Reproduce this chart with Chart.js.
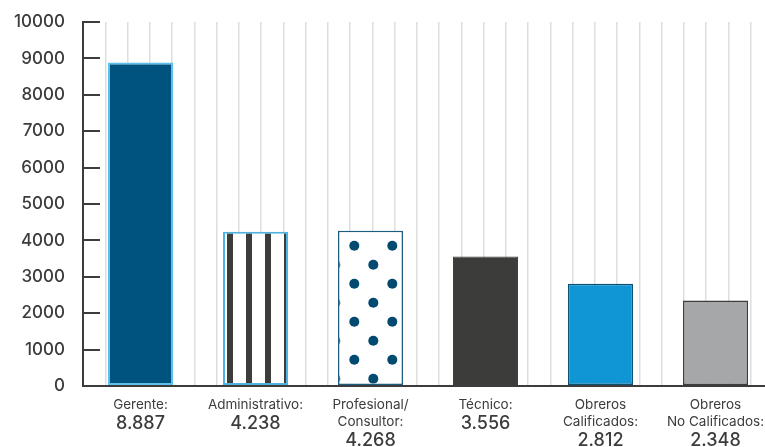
<!DOCTYPE html>
<html>
<head>
<meta charset="utf-8">
<script src="https://cdn.jsdelivr.net/npm/chart.js@4/dist/chart.umd.min.js"></script>
<style>
  html, body { margin: 0; padding: 0; background: #fff; overflow: hidden; }
  #wrap { position: relative; width: 775px; height: 447px; }
</style>
</head>
<body>
<div id="wrap"><canvas id="c"></canvas></div>
<script>
// ---- data ----
const categories = [
  ["Gerente:"],
  ["Administrativo:"],
  ["Profesional/", "Consultor:"],
  ["Técnico:"],
  ["Obreros", "Calificados:"],
  ["Obreros", "No Calificados:"]
];
const values = [8887, 4238, 4268, 3556, 2812, 2348];
const valueLabels = ["8.887", "4.238", "4.268", "3.556", "2.812", "2.348"];
const yTicks = [0, 1000, 2000, 3000, 4000, 5000, 6000, 7000, 8000, 9000, 10000];

// ---- patterns ----
function stripePattern() {
  const c = document.createElement('canvas');
  c.width = 19; c.height = 10;
  const g = c.getContext('2d');
  g.fillStyle = '#ffffff'; g.fillRect(0, 0, 19, 10);
  g.fillStyle = '#3c3c3b';
  g.fillRect(0, 0, 5, 10);
  g.fillRect(18, 0, 1, 10);
  return g.createPattern(c, 'repeat');
}
function dotPattern() {
  const s = 38;
  const c = document.createElement('canvas');
  c.width = s; c.height = s;
  const g = c.getContext('2d');
  g.fillStyle = '#ffffff'; g.fillRect(0, 0, s, s);
  g.fillStyle = '#034a70';
  const pts = [[12.3, 17.7], [31.3, 36.7]];
  for (const [px, py] of pts) {
    for (const dx of [-s, 0, s]) for (const dy of [-s, 0, s]) {
      g.beginPath(); g.arc(px + dx, py + dy, 5, 0, Math.PI * 2); g.fill();
    }
  }
  return g.createPattern(c, 'repeat');
}

const fills = ['#00527f', stripePattern(), dotPattern(), '#3c3c3b', '#1096d4', '#a6a7a9'];
const borders = ['#5bc0eb', '#4fb3e0', '#1d5c7e', '#3c3c3b', '#0d4f73', '#3c3c3c'];
const borderWidths = [2, 2, 1.5, 1, 1.5, 1.5];

Chart.defaults.font.family = 'Inter, "Open Sans", sans-serif';
Chart.defaults.color = '#3c3c3c';

const valuePlugin = {
  id: 'valueLabels',
  afterDraw(chart) {
    const xs = chart.scales.x;
    const ctx = chart.ctx;
    ctx.save();
    ctx.font = '500 18px Inter, "Open Sans", sans-serif';
    ctx.fillStyle = '#3c3c3c';
    ctx.textAlign = 'center';
    ctx.textBaseline = 'middle';
    categories.forEach((lines, i) => {
      const x = xs.getPixelForValue(i);
      const y = xs.top + 37.5 + 17 * (lines.length - 1);
      ctx.fillText(valueLabels[i], x, y);
    });
    ctx.restore();
  }
};

new Chart(document.getElementById('c'), {
  type: 'bar',
  data: {
    labels: categories,
    datasets: [{
      data: values,
      backgroundColor: fills,
      borderColor: borders,
      borderWidth: borderWidths,
      borderSkipped: false,
      categoryPercentage: 1,
      barPercentage: 0.565
    }]
  },
  options: {
    responsive: true,
    maintainAspectRatio: false,
    animation: false,
    layout: { padding: { top: 22, right: 2, bottom: 0, left: 0 } },
    plugins: { legend: { display: false }, tooltip: { enabled: false } },
    scales: {
      x: {
        type: 'category',
        position: 'bottom',
        grid: { display: false },
        border: { display: true, color: '#3c3c3c', width: 2 },
        ticks: {
          autoSkip: false, maxRotation: 0, minRotation: 0,
          padding: 2,
          color: '#3c3c3c',
          font: { size: 13.5, weight: '400', lineHeight: '17px' }
        },
        afterFit(s) { s.height = 61; }
      },
      x2: {
        type: 'linear',
        position: 'bottom',
        min: 0, max: 30,
        grid: { color: '#dedede', lineWidth: 1.5, drawTicks: false },
        border: { display: false },
        ticks: { display: false, stepSize: 1 },
        afterFit(s) { s.height = 0; }
      },
      y: {
        min: 0, max: 10000,
        afterBuildTicks(s) { s.ticks = yTicks.map(v => ({ value: v })); },
        grid: {
          drawOnChartArea: false,
          drawTicks: true,
          tickLength: -17,
          color: '#3c3c3c',
          tickColor: '#3c3c3c',
          tickWidth: 2,
          lineWidth: 2
        },
        border: { display: true, color: '#3c3c3c', width: 2 },
        ticks: {
          padding: 35,
          color: '#3c3c3c',
          font: { size: 17, weight: '500' },
          callback: (v) => String(v)
        },
        afterFit(s) { s.width = 83; s.paddingTop = 0; s.paddingBottom = 0; }
      }
    }
  },
  plugins: [valuePlugin]
});
</script>
</body>
</html>
